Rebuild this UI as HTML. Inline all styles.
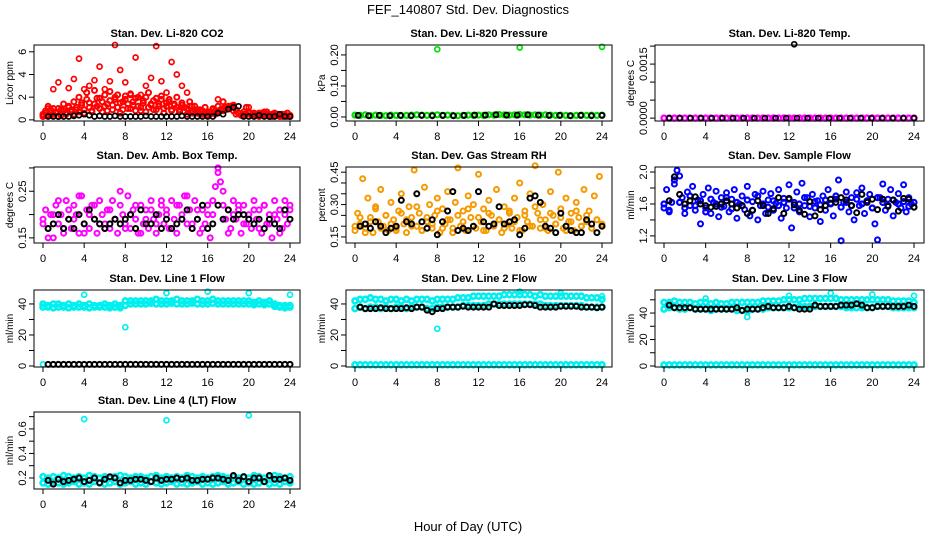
<!DOCTYPE html>
<html><head><meta charset="utf-8"><style>
body{margin:0;background:#fff;}
svg{display:block;font-family:"Liberation Sans",sans-serif;}
</style></head><body>
<svg id="chart" width="936" height="540" viewBox="0 0 936 540">
<rect width="936" height="540" fill="#fff"/>
<text x="468" y="14" text-anchor="middle" font-size="13">FEF_140807  Std. Dev. Diagnostics</text>
<text x="468" y="531" text-anchor="middle" font-size="13">Hour of Day (UTC)</text>
</svg>
<script>
const xTicks=[0,4,8,12,16,20,24];
// CO2
const co2Red=[0.5,0.8,1.2,0.4,1.0,0.6,0.3,0.9,1.4,0.5,1.1,0.7,1.6,0.9,2.0,1.3,0.6,2.4,1.5,0.8,2.6,1.2,1.9,0.7,2.2,1.4,2.5,0.9,1.8,2.2,0.6,1.6,2.1,1.0,2.3,1.3,0.8,2.0,1.1,1.7,0.7,2.4,1.4,0.9,1.9,1.2,2.1,0.6,1.5,1.8,0.9,1.3,2.0,0.7,1.5,1.1,0.5,1.6,0.8,1.2,0.6,0.9,0.5,1.1,0.4,0.7,0.9,0.5,1.2,0.8,1.6,0.9,1.0,1.2,1.3,0.9,0.6,0.4,0.5,1.1,0.7,0.4,0.6,0.5,0.3,0.6,0.4,0.7,0.3,0.5,0.6,0.4,0.3,0.5,0.4,0.6,0.3];
const co2Red2=[0.3,0.6,0.4,0.9,0.5,0.7,1.0,0.4,0.8,0.6,1.2,0.9,0.5,1.1,0.7,1.5,0.9,1.8,1.1,0.7,1.4,1.9,1.0,1.6,1.2,0.8,1.7,1.3,2.0,1.1,1.5,0.9,1.8,1.4,1.0,1.6,1.9,1.2,0.8,1.5,2.0,1.1,1.3,1.7,0.9,1.4,1.8,1.0,1.2,1.6,0.8,1.4,1.1,0.9,1.3,0.7,1.0,1.2,0.6,0.9,0.7,0.5,0.8,0.6,0.7,0.5,0.6,0.8,0.7,0.9,1.0,1.1,1.2,1.1,0.8,0.5,0.6,0.4,0.7,0.5,0.6,0.4,0.5,0.4,0.6,0.5,0.4,0.5,0.4,0.3,0.4,0.5,0.4,0.3,0.4,0.3,0.4];
const co2RedHigh=[0.4,1.0,2.7,3.3,0.8,2.8,3.6,5.4,2.7,3.0,3.5,4.7,2.7,3.4,6.6,4.4,3.3,2.2,5.5,2.2,3.0,3.7,6.5,3.4,2.4,5.1,4.0,3.0,2.4,1.2,0.9,0.5,0.6,1.0,1.8,0.8,1.0,1.2,0.6,0.4,1.1,0.6,0.5,0.7,0.4,0.6,0.3,0.5,0.3];
const co2Black=[0.3,0.3,0.3,0.3,0.3,0.35,0.4,0.5,0.4,0.3,0.35,0.3,0.3,0.35,0.3,0.3,0.3,0.3,0.3,0.35,0.3,0.3,0.3,0.3,0.3,0.3,0.35,0.3,0.3,0.3,0.3,0.3,0.3,0.6,0.5,0.95,1.1,1.2,0.3,0.3,0.3,0.4,0.3,0.3,0.3,0.5,0.3,0.3];
// Pressure
const presGreen=[0.006,0.005,0.007,0.004,0.006,0.005,0.004,0.006,0.005,0.004,0.005,0.006,0.007,0.006,0.005,0.006,0.007,0.005,0.006,0.005,0.004,0.005,0.006,0.005,0.006,0.005,0.007,0.006,0.008,0.007,0.006,0.007,0.008,0.007,0.006,0.007,0.006,0.007,0.006,0.005,0.006,0.005,0.004,0.005,0.006,0.005,0.006,0.005,0.006];
const presBlack=[0.005,0.004,0.005,0.004,0.005,0.004,0.005,0.004,0.005,0.004,0.005,0.006,0.006,0.007,0.006,0.006,0.007,0.006,0.005,0.005,0.004,0.005,0.004,0.005];
const presOutX=[8,16,24];
const presOutY=[0.218,0.224,0.226];
// Temp
const tempMag=[0,0,0,0,0,0,0,0,0,0,0,0,0,0,0,0,0,0,0,0,0,0,0,0,0,0,0,0,0,0,0,0,0,0,0,0,0,0,0,0,0,0,0,0,0,0,0,0,0];
const tempBlack=[0,0,0,0,0,0,0,0,0,0,0,0,0,0,0,0,0,0,0,0,0,0,0,0];
const tempOutX=[12.5];
const tempOutY=[0.00205];
// Amb box
const ambMag=[.19,.21,.17,.20,.15,.22,.18,.20,.16,.23,.19,.17,.22,.20,.16,.24,.18,.21,.17,.22,.19,.16,.23,.20,.18,.21,.17,.23,.19,.16,.22,.20,.18,.24,.17,.21,.19,.16,.22,.18,.21,.17,.23,.19,.16,.20,.22,.18,.21,.17,.23,.19,.16,.22,.20,.24,.18,.21,.17,.23,.19,.16,.21,.18,.22,.15,.20,.26,.30,.27,.22,.19,.21,.17,.23,.19,.21,.16,.22,.18,.20,.17,.23,.19,.21,.16,.22,.18,.20,.15,.23,.19,.21,.17,.20,.18,.22];
const ambMag2=[.18,.15,.20,.23,.17,.21,.19,.24,.16,.20,.22,.18,.17,.21,.19,.25,.17,.20,.22,.16,.19,.21,.18,.23,.20,.17,.22,.19,.24,.18,.21,.17,.20,.23,.29,.25,.16,.20,.22,.18,.19,.21,.17,.22,.18,.20,.16,.23,.21];
const ambBlack=[.17,.18,.20,.17,.19,.17,.20,.18,.21,.19,.18,.17,.18,.19,.18,.19,.20,.17,.21,.18,.18,.20,.17,.19,.17,.18,.19,.21,.17,.19,.22,.17,.18,.22,.19,.21,.19,.20,.20,.19,.18,.19,.17,.19,.18,.17,.21,.19];
// RH
const rhOrange=[.18,.26,.21,.42,.19,.33,.24,.17,.29,.22,.37,.20,.25,.18,.31,.23,.19,.27,.35,.21,.17,.29,.24,.46,.20,.26,.18,.38,.22,.30,.19,.25,.33,.17,.28,.21,.36,.23,.19,.31,.47,.20,.27,.18,.34,.24,.30,.19,.44,.22,.28,.18,.32,.25,.20,.37,.23,.17,.29,.21,.26,.19,.33,.24,.40,.18,.27,.22,.35,.20,.48,.26,.19,.30,.23,.18,.36,.25,.21,.45,.28,.19,.33,.22,.26,.18,.31,.24,.20,.37,.22,.27,.19,.34,.23,.43,.20];
const rhOrange2=[.20,.24,.17,.22,.28,.19,.25,.21,.18,.26,.23,.20,.29,.18,.24,.21,.27,.19,.23,.17,.25,.22,.28,.20,.24,.18,.26,.21,.23,.19,.27,.22,.18,.25,.20,.29,.23,.19,.26,.21,.24,.18,.22,.27,.20,.25,.19,.23,.21];
const rhBlack=[.20,.21,.19,.22,.20,.17,.19,.20,.32,.22,.21,.35,.22,.19,.23,.16,.22,.27,.36,.18,.19,.18,.20,.36,.22,.20,.21,.29,.21,.22,.23,.16,.19,.33,.34,.31,.20,.19,.17,.26,.20,.18,.17,.17,.23,.21,.17,.20];
// Sample flow
const sfBlue=[1.55,1.78,1.50,1.62,1.85,2.02,1.95,1.68,1.48,1.75,1.58,1.82,1.52,1.65,1.35,1.72,1.55,1.80,1.48,1.62,1.76,1.44,1.68,1.57,1.74,1.50,1.66,1.78,1.42,1.60,1.70,1.53,1.82,1.45,1.63,1.72,1.40,1.58,1.76,1.48,1.65,1.73,1.52,1.61,1.78,1.42,1.67,1.55,1.84,1.30,1.62,1.75,1.50,1.86,1.58,1.68,1.44,1.72,1.55,1.64,1.38,1.70,1.52,1.78,1.60,1.45,1.66,1.90,1.14,1.62,1.75,1.50,1.68,1.40,1.74,1.58,1.80,1.48,1.64,1.72,1.55,1.35,1.15,1.68,1.85,1.52,1.66,1.78,1.45,1.62,1.73,1.55,1.84,1.50,1.68,1.60,1.56];
const sfBlue2=[1.60,1.52,1.90,1.62,1.55,1.70,1.58,1.64,1.50,1.66,1.60,1.56,1.68,1.54,1.62,1.58,1.65,1.52,1.70,1.60,1.56,1.64,1.58,1.62,1.66,1.55,1.60,1.68,1.57,1.63,1.59,1.65,1.61,1.70,1.56,1.62,1.58,1.66,1.60,1.64,1.55,1.68,1.62,1.58,1.65,1.60,1.63,1.57,1.62];
const sfBlack=[1.64,1.94,1.72,1.60,1.64,1.69,1.60,1.58,1.56,1.57,1.60,1.64,1.60,1.55,1.58,1.48,1.52,1.64,1.58,1.48,1.54,1.68,1.48,1.67,1.59,1.52,1.47,1.63,1.45,1.53,1.58,1.66,1.62,1.68,1.65,1.58,1.49,1.72,1.62,1.66,1.53,1.66,1.57,1.65,1.51,1.67,1.66,1.56];
// Line 1
const l1CyanA=[40,39,40,40,39,40,39,40,39,40,39,39,40,39,40,39,42,42,42,42,42,42,43,42,42,42,43,42,42,42,43,42,42,43,42,42,42,42,42,42,42,41,42,41,42,40,39,39,39];
const l1CyanB=[38,38,37.5,38,38,37.5,38,38,38,37.5,38,38,38,37.5,38,37.5,39,40,40,40,40,40.5,40,40,40,40.5,40,40,40,40.5,40,40,40,40.5,40,40,40,40,40,40,40,39.5,40,39.5,40,38.5,38,37.5,38];
const l1OutX=[0,4,8,12,16,20,24];
const l1OutY=[1,46,25,47,48,47,46];
const l1Black=[1,1,1,1,1,1,1,1,1,1,1,1,1,1,1,1,1,1,1,1,1,1,1,1,1,1,1,1,1,1,1,1,1,1,1,1,1,1,1,1,1,1,1,1,1,1,1,1];
// Line 2
const l2CyanA=[42,43,43,44,43,43,42,43,43,42,43,42,43,43,43,42,43,43,43,43,44,44,44,45,45,45,45,45,45,46,46,46,46,46,46,45,46,45,45,45,45,45,45,45,45,44,44,44,43];
const l2CyanB=[37,38,37,38,38,37,38,37,38,38,37,38,38,38,37,37,38,38,38,38,38,39,39,39,39,39,40,40,40,40,40,40,40,40,40,40,40,39,39,39,39,39,39,39,39,38,38,38,38];
const l2CyanZero=[0.8,0.8,0.8,0.8,0.8,0.8,0.8,0.8,0.8,0.8,0.8,0.8,0.8,0.8,0.8,0.8,0.8,0.8,0.8,0.8,0.8,0.8,0.8,0.8,0.8,0.8,0.8,0.8,0.8,0.8,0.8,0.8,0.8,0.8,0.8,0.8,0.8,0.8,0.8,0.8,0.8,0.8,0.8,0.8,0.8,0.8,0.8,0.8,0.8];
const l2OutX=[8,16,20,24];
const l2OutY=[24,48,47,45];
const l2Black=[38,37,37,37,37.5,37,37,37,37,37.5,37,38,38,36,35,37,37,38,38,38,38.5,38,38,38,38,38,40,39,39,39,39,39,39.5,39.5,39,38,38,38,38,38.5,38.5,38.5,38.5,38,38,38,37.5,38];
// Line 3
const l3CyanA=[48,48,49,48,48,48,47,48,48,47,48,47,47,48,48,48,48,48,48,49,49,49,49,50,50,50,50,51,51,51,51,51,51,51,50,50,50,50,50,50,50,50,50,50,49,49,49,49,48];
const l3CyanB=[43,44,44,43,43,44,43,43,43,42,43,43,43,43,42,42,41,43,43,43,44,44,44,44,44,44,45,45,45,45,45,45,45,45,45,44,44,44,44,44,44,45,45,45,44,44,44,44,44];
const l3CyanZero=[0.8,0.8,0.8,0.8,0.8,0.8,0.8,0.8,0.8,0.8,0.8,0.8,0.8,0.8,0.8,0.8,0.8,0.8,0.8,0.8,0.8,0.8,0.8,0.8,0.8,0.8,0.8,0.8,0.8,0.8,0.8,0.8,0.8,0.8,0.8,0.8,0.8,0.8,0.8,0.8,0.8,0.8,0.8,0.8,0.8,0.8,0.8,0.8,0.8];
const l3OutX=[4,8,12,16,20,24];
const l3OutY=[51,37,53,55,54,53];
const l3Black=[46,44,44,44,44,43,43,43,43,43,43,43,43,44,42,43,43,43,44,45,44,44,44,45,44,43,43,43,46,45,45,45,45,46,46,46,47,46,44,44,45,45,45,45,45,45,46,45];
// Line 4
const l4CyanA=[.21,.20,.21,.20,.22,.21,.20,.21,.20,.22,.21,.20,.21,.20,.21,.22,.21,.20,.21,.21,.20,.21,.22,.20,.21,.20,.21,.20,.22,.21,.20,.21,.20,.21,.22,.21,.20,.21,.20,.21,.20,.22,.21,.20,.21,.22,.21,.20,.21];
const l4CyanB=[.16,.15,.17,.16,.15,.16,.17,.15,.16,.15,.17,.16,.15,.16,.17,.15,.16,.17,.15,.16,.15,.17,.16,.15,.16,.17,.15,.16,.15,.16,.17,.15,.16,.15,.16,.17,.15,.16,.17,.15,.16,.15,.16,.17,.15,.16,.15,.17,.16];
const l4OutX=[4,12,20];
const l4OutY=[0.68,0.67,0.71];
const l4Black=[.18,.15,.19,.17,.18,.19,.20,.17,.18,.20,.16,.19,.21,.20,.16,.18,.18,.19,.19,.18,.17,.20,.18,.19,.19,.20,.19,.20,.18,.18,.19,.19,.20,.20,.19,.18,.22,.18,.21,.17,.20,.20,.17,.22,.19,.19,.20,.18];

const RED='#ff0000',GRN='#00e000',MAG='#ff00ff',ORA='#f59a00',BLU='#0000ff',CYA='#00f0f0',BLK='#000';
const COLS=[[34,300],[346,612],[655,924]];
const ROWS=[[45,121],[167,243],[290,367],[412,489]];
const panels=[
 {name:'co2',title:'Stan. Dev. Li-820 CO2',ylab:'Licor ppm',c:0,r:0,y0:-0.1,y1:6.6,ticks:[0,2,4,6],labels:['0','2','4','6'],
  series:[{v:co2Red,col:RED,w:2},{v:co2Red2,col:RED,w:2},{v:co2RedHigh,col:RED},{v:co2Black,col:BLK,s:0.5}]},
 {name:'pressure',title:'Stan. Dev. Li-820 Pressure',ylab:'kPa',c:1,r:0,y0:-0.013,y1:0.232,ticks:[0,0.05,0.1,0.15,0.2],labels:['0.00','','0.10','','0.20'],
  series:[{v:presGreen,col:GRN,w:2.2},{v:presBlack,col:BLK,s:0.3,w:2},{x:presOutX,v:presOutY,col:GRN}]},
 {name:'temp',title:'Stan. Dev. Li-820 Temp.',ylab:'degrees C',c:2,r:0,y0:-0.00008,y1:0.00203,ticks:[0,0.0005,0.001,0.0015,0.002],labels:['0.0000','','','0.0015',''],
  series:[{v:tempMag,col:MAG,w:2.4},{v:tempBlack,col:BLK,s:0.5},{x:tempOutX,v:tempOutY,col:BLK}]},
 {name:'amb-box-temp',title:'Stan. Dev. Amb. Box Temp.',ylab:'degrees C',c:0,r:1,y0:0.139,y1:0.302,ticks:[0.15,0.2,0.25,0.3],labels:['0.15','','0.25',''],
  series:[{v:ambMag,col:MAG,w:2},{v:ambMag2,col:MAG,w:2},{v:ambBlack,col:BLK,s:0.5,w:2}]},
 {name:'gas-rh',title:'Stan. Dev. Gas Stream RH',ylab:'percent',c:1,r:1,y0:0.122,y1:0.474,ticks:[0.15,0.2,0.25,0.3,0.35,0.4,0.45],labels:['0.15','','','0.30','','','0.45'],
  series:[{v:rhOrange,col:ORA,w:2},{v:rhOrange2,col:ORA,w:2},{v:rhBlack,col:BLK,s:0.5,w:2}]},
 {name:'sample-flow',title:'Stan. Dev. Sample Flow',ylab:'ml/min',c:2,r:1,y0:1.111,y1:2.063,ticks:[1.2,1.4,1.6,1.8,2.0],labels:['1.2','','1.6','','2.0'],
  series:[{v:sfBlue,col:BLU,w:2},{v:sfBlue2,col:BLU,w:2.2},{v:sfBlack,col:BLK,s:0.5,w:2}]},
 {name:'line1-flow',title:'Stan. Dev. Line 1 Flow',ylab:'ml/min',c:0,r:2,y0:-0.65,y1:49,ticks:[0,10,20,30,40],labels:['0','','20','','40'],
  series:[{v:l1CyanA,col:CYA,w:2.6},{v:l1CyanB,col:CYA,w:2.6},{x:l1OutX,v:l1OutY,col:CYA},{v:l1Black,col:BLK,s:0.5,w:2}]},
 {name:'line2-flow',title:'Stan. Dev. Line 2 Flow',ylab:'ml/min',c:1,r:2,y0:-0.65,y1:49,ticks:[0,10,20,30,40],labels:['0','','20','','40'],
  series:[{v:l2CyanA,col:CYA,w:2.6},{v:l2CyanB,col:CYA,w:2.6},{v:l2CyanZero,col:CYA,w:2.6},{x:l2OutX,v:l2OutY,col:CYA},{v:l2Black,col:BLK,s:0.5,w:2}]},
 {name:'line3-flow',title:'Stan. Dev. Line 3 Flow',ylab:'ml/min',c:2,r:2,y0:-0.75,y1:57.4,ticks:[0,10,20,30,40,50],labels:['0','','20','','40',''],
  series:[{v:l3CyanA,col:CYA,w:2.6},{v:l3CyanB,col:CYA,w:2.6},{v:l3CyanZero,col:CYA,w:2.6},{x:l3OutX,v:l3OutY,col:CYA},{v:l3Black,col:BLK,s:0.5,w:2}]},
 {name:'line4-flow',title:'Stan. Dev. Line 4 (LT) Flow',ylab:'ml/min',c:0,r:3,y0:0.11,y1:0.738,ticks:[0.2,0.3,0.4,0.5,0.6,0.7],labels:['0.2','','0.4','','0.6',''],
  series:[{v:l4CyanA,col:CYA,w:2.6},{v:l4CyanB,col:CYA,w:2.6},{x:l4OutX,v:l4OutY,col:CYA},{v:l4Black,col:BLK,s:0.5,w:2}]}
];
const svg=document.getElementById('chart');
const NS='http://www.w3.org/2000/svg';
function mk(tag,attrs,parent){const e=document.createElementNS(NS,tag);for(const k in attrs)e.setAttribute(k,attrs[k]);parent.appendChild(e);return e;}
panels.forEach(p=>{
  const L=COLS[p.c][0],R=COLS[p.c][1],T=ROWS[p.r][0],B=ROWS[p.r][1];
  const xs=h=>L+9+(R-L-19)*h/24;
  const ys=v=>B-(v-p.y0)/(p.y1-p.y0)*(B-T);
  const g=mk('g',{},svg);
  
  
  const t=mk('text',{x:(L+R)/2,y:T-8,'text-anchor':'middle','font-size':'11','font-weight':'bold'},g);
  t.textContent=p.title;
  
  
  const yl=mk('text',{transform:`translate(${L-21},${(T+B)/2}) rotate(-90)`,'text-anchor':'middle','font-size':'10'},g);
  yl.textContent=p.ylab;
  
  
  p.series.forEach((s,si)=>{
    const sg=mk('g',{fill:'none',stroke:s.col,'stroke-width':String(s.w||1.7)},g);
    
    
    const n=s.v.length;const st=s.s||0;
    s.v.forEach((v,i)=>{
      const h=s.x?s.x[i]:(n>1?st+(24-st)*i/(n-1):st);
      const c=mk('circle',{cx:xs(h).toFixed(1),cy:ys(v).toFixed(1),r:'2.5'},sg);
      
      
    });
  });
  const box=mk('rect',{x:L,y:T,width:R-L,height:B-T,fill:'none',stroke:'#000','stroke-width':'1'},g);
  
  
  const xa=mk('g',{stroke:'#000','stroke-width':'1'},g);
  
  
  mk('line',{x1:xs(0),x2:xs(24),y1:B,y2:B},xa);
  xTicks.forEach(h=>{
    mk('line',{x1:xs(h),x2:xs(h),y1:B,y2:B+5},xa);
    const tl=mk('text',{x:xs(h),y:B+19,'text-anchor':'middle','font-size':'11',stroke:'none',fill:'#000'},xa);
    tl.textContent=h;
    
    
  });
  const ya=mk('g',{stroke:'#000','stroke-width':'1'},g);
  
  
  mk('line',{x1:L,x2:L,y1:ys(p.ticks[0]),y2:ys(p.ticks[p.ticks.length-1])},ya);
  p.ticks.forEach((v,i)=>{
    const y=ys(v);
    mk('line',{x1:L-5,x2:L,y1:y,y2:y},ya);
    if(p.labels[i]){
      const tl=mk('text',{transform:`translate(${L-8},${y}) rotate(-90)`,'text-anchor':'middle','font-size':'11',stroke:'none',fill:'#000'},ya);
      tl.textContent=p.labels[i];
      
      
    }
  });
});
</script>
</body></html>
